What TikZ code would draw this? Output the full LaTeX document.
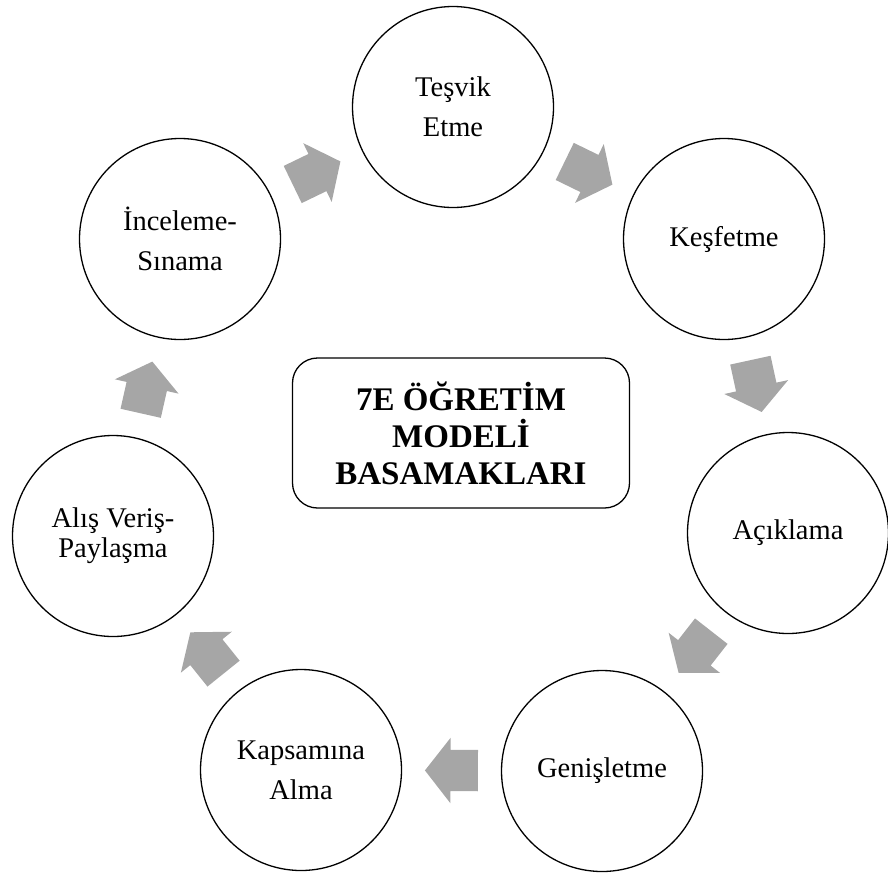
\documentclass[tikz,border=0pt]{standalone}
\usepackage{fontspec}
\setmainfont{Liberation Serif}
\usetikzlibrary{calc,shapes.arrows}
\def\arrowcolor{black!35}

\begin{document}
\begin{tikzpicture}[x=1pt, y=-1pt, line width=1.3pt,
  stage/.style={circle, draw, minimum size=201pt, inner sep=0pt, align=center, font=\fontsize{28.5}{40}\selectfont},
  title/.style={rectangle, rounded corners=25pt, draw, minimum width=337pt, minimum height=150pt, align=center, font=\bfseries\fontsize{33}{37}\selectfont},
  flow/.style={single arrow, fill=\arrowcolor, draw=none, inner xsep=0pt, inner ysep=20pt, minimum height=53pt, single arrow head extend=12pt, single arrow tip angle=104}]

  \useasboundingbox (0,0) rectangle (888,873);

  \node[stage] (tesvik) at (453,107) {Teşvik\\Etme};
  \node[stage] (kesfet) at (724,239) {Keşfetme};
  \node[stage] (aciklama) at (788,533) {Açıklama};
  \node[stage] (genislet) at (602,771) {Genişletme};
  \node[stage] (kapsam) at (301,770) {Kapsamına\\Alma};
  \node[stage, font=\fontsize{28.5}{30}\selectfont] (alisveris) at (113,536) {Alış Veriş-\\Paylaşma};
  \node[stage] (inceleme) at (180,239) {İnceleme-\\Sınama};

  \node[title] (model) at (461,433) {7E ÖĞRETİM\\MODELİ\\BASAMAKLARI};

  % block arrows between the stages
  \foreach \from/\to in {inceleme/tesvik, tesvik/kesfet, kesfet/aciklama, aciklama/genislet, genislet/kapsam, kapsam/alisveris, alisveris/inceleme}
    \path let \p1 = ($(\to)-(\from)$), \n1 = {atan2(\y1,\x1)} in
      node[flow, rotate=\n1] at ($(\from)!0.5!(\to)!8pt!(\from)$) {};
\end{tikzpicture}
\end{document}
